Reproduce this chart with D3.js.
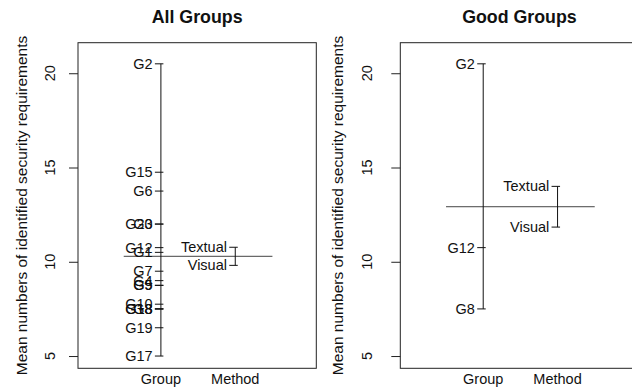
<!DOCTYPE html>
<html>
<head>
<meta charset="utf-8">
<script src="https://cdn.jsdelivr.net/npm/d3@7"></script>
<style>
  html, body { margin: 0; padding: 0; background: #fff; }
  svg { display: block; font-family: "Liberation Sans", Arial, Helvetica, sans-serif; }
</style>
</head>
<body>
<svg id="chart" width="632" height="387"></svg>
<script>
// Factor levels shown on the x axis of each design plot
const factors = ["Group", "Method"];
const yTicks = [5, 10, 15, 20];
const yLabel = "Mean numbers of identified security requirements";

// All groups: mean per group, per method, and the grand mean
const allGroupNames = ["G2", "G15", "G6", "G20", "G3", "G12", "G1", "G7", "G4", "G9", "G5",
                       "G10", "G13", "G18", "G8", "G19", "G17"];
const allGroupMeans = [20.5, 14.75, 13.75, 12.0, 12.0, 10.75, 10.5, 9.5, 9.0, 8.75, 8.75,
                       7.75, 7.5, 7.5, 7.5, 6.5, 5.0];
const allMethodNames = ["Textual", "Visual"];
const allMethodMeans = [10.77, 9.81];
const allGrandMean = 10.29;

// Good groups only
const goodGroupNames = ["G2", "G12", "G8"];
const goodGroupMeans = [20.5, 10.75, 7.5];
const goodMethodNames = ["Textual", "Visual"];
const goodMethodMeans = [14.0, 11.84];
const goodGrandMean = 12.92;

const panels = [
  { title: "All Groups", left: 78, tickLabelX: 55, yTitleX: 27,
    levels: [[allGroupNames, allGroupMeans], [allMethodNames, allMethodMeans]], grand: allGrandMean },
  { title: "Good Groups", left: 400.3, tickLabelX: 371.5, yTitleX: 343,
    levels: [[goodGroupNames, goodGroupMeans], [goodMethodNames, goodMethodMeans]], grand: goodGrandMean }
];

const svg = d3.select("#chart");
const boxW = 238.3, boxTop = 42.7, boxBottom = 368.3;
const fs = 14.5;          // axis / label font size
const ink = "#111";

const y = d3.scaleLinear().domain([4.35, 21.62]).range([boxBottom, boxTop]);

panels.forEach(p => {
  const x = d3.scaleLinear().domain([-0.115, 3.09]).range([p.left, p.left + boxW]);
  const g = svg.append("g");

  // frame
  g.append("rect")
    .attr("x", p.left).attr("y", boxTop)
    .attr("width", boxW).attr("height", boxBottom - boxTop)
    .attr("fill", "none").attr("stroke", "#222").attr("stroke-width", 1);

  // title, centred over the frame
  g.append("text")
    .attr("x", p.left + boxW / 2).attr("y", 22.5)
    .attr("text-anchor", "middle")
    .attr("font-weight", "bold").attr("font-size", 17.8)
    .attr("fill", ink)
    .text(p.title);

  // y axis
  const yAxis = d3.axisLeft(y).tickValues(yTicks).tickSize(9).tickFormat("");
  const ya = g.append("g").attr("transform", `translate(${p.left},0)`).call(yAxis);
  ya.select(".domain").remove();
  ya.selectAll(".tick line").attr("stroke", "#222");

  g.selectAll(".ytl").data(yTicks).join("text")
    .attr("class", "ytl")
    .attr("transform", d => `translate(${p.tickLabelX},${y(d)}) rotate(-90)`)
    .attr("text-anchor", "middle")
    .attr("font-size", fs).attr("fill", ink)
    .text(d => d);

  g.append("text")
    .attr("transform", `translate(${p.yTitleX},${(boxTop + boxBottom) / 2}) rotate(-90)`)
    .attr("text-anchor", "middle")
    .attr("font-size", 15.5).attr("fill", ink)
    .text(yLabel);

  // grand mean line
  g.append("line")
    .attr("x1", x(0.5)).attr("x2", x(2.5))
    .attr("y1", y(p.grand)).attr("y2", y(p.grand))
    .attr("stroke", "#444").attr("stroke-width", 1);

  // one vertical scale per factor with its level means
  p.levels.forEach(([names, means], i) => {
    const cx = x(i + 1);
    g.append("line")
      .attr("x1", cx).attr("x2", cx)
      .attr("y1", y(d3.max(means))).attr("y2", y(d3.min(means)))
      .attr("stroke", ink).attr("stroke-width", 1);

    const rows = names.map((n, k) => ({ n, v: means[k] }));
    g.selectAll(null).data(rows).join("line")
      .attr("x1", cx - 6).attr("x2", cx + 2.5)
      .attr("y1", d => y(d.v)).attr("y2", d => y(d.v))
      .attr("stroke", ink).attr("stroke-width", 1);

    g.selectAll(null).data(rows).join("text")
      .attr("x", cx - 8.3).attr("y", d => y(d.v) + 5)
      .attr("text-anchor", "end")
      .attr("font-size", fs).attr("fill", ink)
      .text(d => d.n);

    g.append("text")
      .attr("x", cx).attr("y", 383.5)
      .attr("text-anchor", "middle")
      .attr("font-size", fs).attr("fill", ink)
      .text(factors[i]);
  });
});
</script>
</body>
</html>
